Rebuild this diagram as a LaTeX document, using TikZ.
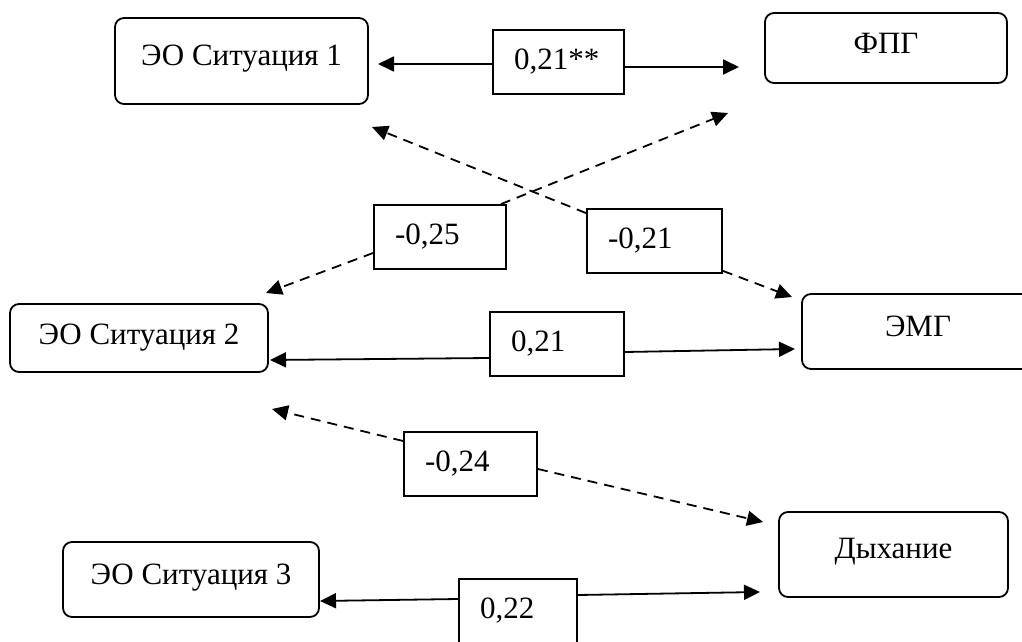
\documentclass[tikz,border=0pt]{standalone}
\usepackage{fontspec}
\setmainfont{Liberation Serif}
\usetikzlibrary{arrows.meta}
\begin{document}
\begin{tikzpicture}[x=1pt,y=-1pt,
  every node/.style={font=\fontsize{31}{37}\selectfont},
  mainbox/.style={draw, line width=1.8pt, rounded corners=9pt, inner sep=0pt, text height=20pt, text depth=10pt},
  lblbox/.style={draw, line width=1.8pt, fill=white, inner xsep=21pt, inner ysep=0pt, minimum height=64pt, align=left},
  conn/.style={line width=1.8pt, -{Triangle[length=16pt,width=15pt]}},
  dconn/.style={conn, dash pattern=on 10pt off 7pt}]
\useasboundingbox (0,0) rectangle (1022,642);

% main boxes
\node[mainbox, minimum width=253pt, minimum height=86pt] (s1) at (241.5,61) {ЭО Ситуация 1};
\node[mainbox, minimum width=242pt, minimum height=70pt] (fpg) at (886,48) {ФПГ};
\node[mainbox, minimum width=258pt, minimum height=68pt, text depth=8pt] (s2) at (139,338) {ЭО Ситуация 2};
\node[mainbox, minimum width=232pt, minimum height=75pt] (emg) at (918,331.5) {ЭМГ};
\node[mainbox, minimum width=256pt, minimum height=75pt] (s3) at (191,579.5) {ЭО Ситуация 3};
\node[mainbox, minimum width=229pt, minimum height=85pt, text depth=12pt] (dyh) at (893.5,554.5) {Дыхание};

% label boxes
\node[lblbox, text width=89pt] (l1) at (558.5,62) {0,21**};
\node[lblbox, text width=90pt] (l2) at (440,237) {-0,25};
\node[lblbox, text width=93pt] (l3) at (654.5,241) {-0,21};
\node[lblbox, text width=92pt] (l4) at (557,344) {0,21};
\node[lblbox, text width=91pt] (l5) at (470.5,464) {-0,24};
\node[lblbox, text width=76pt] (l6) at (518,611) {0,22};

% arrow tips
\coordinate (tA1) at (378,64);
\coordinate (tA2) at (739,67);
\coordinate (tB1) at (372,127);
\coordinate (tB2) at (792,297);
\coordinate (tC1) at (728,113);
\coordinate (tC2) at (266,293);
\coordinate (tD1) at (270,360);
\coordinate (tD2) at (795,349);
\coordinate (tE1) at (272,409);
\coordinate (tE2) at (763,522);
\coordinate (tF1) at (320,601);
\coordinate (tF2) at (760,592);

% solid connectors
\draw[conn] ([yshift=-2pt]l1.west) -- (tA1);
\draw[conn] ([yshift=-5pt]l1.east) -- (tA2);
\draw[conn] ([yshift=-14pt]l4.west) -- (tD1);
\draw[conn] ([yshift=-8pt]l4.east) -- (tD2);
\draw[conn] ([yshift=12pt]l6.west) -- (tF1);
\draw[conn] ([yshift=16pt]l6.east) -- (tF2);

% dashed connectors
\draw[dconn] ([yshift=-5pt]l3.north west) -- (tB1);
\draw[dconn] ([yshift=3pt]l3.south east) -- (tB2);
\draw[dconn] ([xshift=-6pt]l2.north east) -- (tC1);
\draw[dconn] ([yshift=-16pt]l2.west) -- (tC2);
\draw[dconn] ([yshift=23pt]l5.west) -- (tE1);
\draw[dconn] ([yshift=-5pt]l5.east) -- (tE2);
\end{tikzpicture}
\end{document}
